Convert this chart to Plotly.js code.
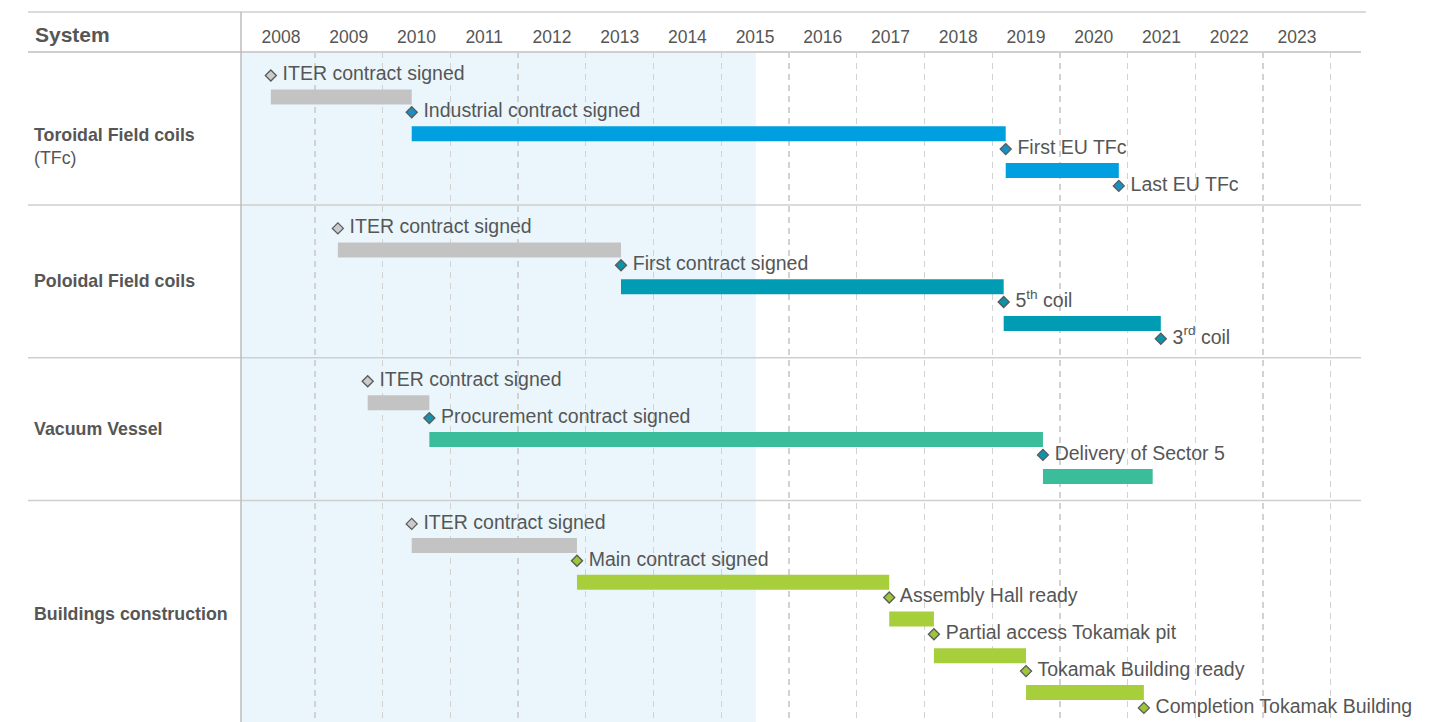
<!DOCTYPE html>
<html>
<head>
<meta charset="utf-8">
<script src="https://cdn.plot.ly/plotly-3.0.1.min.js"></script>
<style>
html,body{margin:0;padding:0;background:#fff;}
#chart{width:1433px;height:722px;}
</style>
</head>
<body>
<div id="chart"></div>
<script>
// ---------- DATA ----------
const years = [2008,2009,2010,2011,2012,2013,2014,2015,2016,2017,2018,2019,2020,2021,2022,2023];
const pastEnd = 2015.51;   // end of shaded "past" period

const systemNames = ['<b>Toroidal Field coils</b><br>(TFc)', '<b>Poloidal Field coils</b>', '<b>Vacuum Vessel</b>', '<b>Buildings construction</b>'];

const tfcLabels = ['ITER contract signed', 'Industrial contract signed', 'First EU TFc', 'Last EU TFc'];
const tfcDates  = [2008.35, 2010.43, 2019.20, 2020.87];
const tfcOpenEnd = null;

const pfLabels = ['ITER contract signed', 'First contract signed', '5<sup>th</sup> coil', '3<sup>rd</sup> coil'];
const pfDates  = [2009.34, 2013.52, 2019.17, 2021.49];
const pfOpenEnd = null;

const vvLabels = ['ITER contract signed', 'Procurement contract signed', 'Delivery of Sector 5'];
const vvDates  = [2009.78, 2010.69, 2019.75];
const vvOpenEnd = 2021.37;

const bLabels = ['ITER contract signed', 'Main contract signed', 'Assembly Hall ready', 'Partial access Tokamak pit', 'Tokamak Building ready', 'Completion Tokamak Building'];
const bDates  = [2010.43, 2012.87, 2017.48, 2018.14, 2019.50, 2021.24];
const bOpenEnd = null;

// ---------- STYLE ----------
const barColors     = ['#009fdf', '#009cb4', '#3bbd9c', '#a7cf3b'];
const diamondColors = ['#1790c8', '#0b93a9', '#1492ab', '#9cc53b'];
const iterBarColor = '#c3c3c3';
const iterDiamondColor = '#cbcbcb';
const textColor = '#565656';
const FONT = '"Liberation Sans", Arial, Helvetica, sans-serif';

const systems = [
  {labels: tfcLabels, dates: tfcDates, open: tfcOpenEnd},
  {labels: pfLabels, dates: pfDates, open: pfOpenEnd},
  {labels: vvLabels, dates: vvDates, open: vvOpenEnd},
  {labels: bLabels, dates: bDates, open: bOpenEnd}
];

// layout geometry (in pixel units of the y axis)
const PAD = 23.5, STEP = 36.8, TAIL = 19, OPEN_TAIL = 45.5, BAR_OFF = 21.5, BAR_H = 15;
const PLOT_L = 241, PLOT_R = 1361, PLOT_T = 52, PLOT_B = 722;
const PLOT_W = PLOT_R - PLOT_L, PLOT_H = PLOT_B - PLOT_T;
const PX_PER_YEAR = 67.73;
const xRange = [years[0] + 0.5 - 40 / PX_PER_YEAR, years[0] + 0.5 + (PLOT_R - 281) / PX_PER_YEAR];

const traces = [];
const shapes = [];
const annotations = [];
let cursorY = 0;
const boundaries = [];

systems.forEach((s, si) => {
  const n = s.dates.length;
  const dY = s.dates.map((_, k) => cursorY + PAD + k * STEP);
  const bx = [], bbase = [], by = [], bcol = [];
  for (let k = 0; k < n; k++) {
    const end = k < n - 1 ? s.dates[k + 1] : s.open;
    if (end === null || end === undefined) continue;
    bbase.push(s.dates[k]);
    bx.push(end - s.dates[k]);
    by.push(dY[k] + BAR_OFF);
    bcol.push(k === 0 ? iterBarColor : barColors[si]);
  }
  traces.push({
    type: 'bar', orientation: 'h', x: bx, base: bbase, y: by, width: BAR_H,
    marker: {color: bcol, line: {width: 0}}, hoverinfo: 'skip', showlegend: false
  });
  traces.push({
    type: 'scatter', mode: 'markers+text', x: s.dates, y: dY,
    text: s.labels.map(t => ' ' + t), textposition: 'middle right',
    textfont: {family: FONT, size: 19.5, color: textColor},
    marker: {symbol: 'diamond', size: 8.5,
             color: s.dates.map((_, k) => k === 0 ? iterDiamondColor : diamondColors[si]),
             line: {color: '#5a5a5a', width: 1.3}},
    cliponaxis: false, hoverinfo: 'skip', showlegend: false
  });
  const h = PAD + (n - 1) * STEP + (s.open ? OPEN_TAIL : TAIL);
  const lines = systemNames[si].split('<br>').length;
  annotations.push({
    xref: 'paper', yref: 'y', x: 0, y: cursorY + h / 2, xanchor: 'left', yanchor: 'middle',
    xshift: -(PLOT_L - 32), yshift: -(lines - 1) * 18,
    text: systemNames[si], showarrow: false, align: 'left',
    font: {family: FONT, size: 17.8, color: textColor}
  });
  cursorY += h;
  boundaries.push(cursorY);
});

// header label
annotations.push({
  xref: 'paper', yref: 'paper', x: 0, y: 1, xanchor: 'left', yanchor: 'middle',
  xshift: -(PLOT_L - 33), yshift: 18, text: '<b>System</b>', showarrow: false,
  font: {family: FONT, size: 21, color: textColor}
});

const lineColor = '#cfcfcf';
const xLeftPaper = (28 - PLOT_L) / PLOT_W;
const headerTopPaper = 1 + (PLOT_T - 12) / PLOT_H;

// past shading
shapes.push({type: 'rect', xref: 'x', yref: 'paper', x0: xRange[0], x1: pastEnd, y0: 0, y1: 1,
  fillcolor: '#eaf6fc', line: {width: 0}, layer: 'below'});
// header top line
shapes.push({type: 'line', xref: 'paper', yref: 'paper', x0: xLeftPaper, x1: (1366 - PLOT_L) / PLOT_W,
  y0: headerTopPaper, y1: headerTopPaper, line: {color: lineColor, width: 1.5}});
// header bottom line
shapes.push({type: 'line', xref: 'paper', yref: 'paper', x0: xLeftPaper, x1: 1, y0: 1, y1: 1,
  line: {color: lineColor, width: 2}});
// section separators
boundaries.slice(0, -1).forEach(b => {
  shapes.push({type: 'line', xref: 'paper', yref: 'y', x0: xLeftPaper, x1: 1, y0: b, y1: b,
    line: {color: lineColor, width: 1.5}});
});
// left vertical line
shapes.push({type: 'line', xref: 'paper', yref: 'paper', x0: 0, x1: 0, y0: 0, y1: headerTopPaper,
  line: {color: '#bdbdbd', width: 1.5}});

const layout = {
  width: 1433, height: 722,
  margin: {l: PLOT_L, r: 1433 - PLOT_R, t: PLOT_T, b: 0, pad: 0},
  paper_bgcolor: '#ffffff', plot_bgcolor: 'rgba(0,0,0,0)',
  showlegend: false, barmode: 'overlay',
  xaxis: {
    side: 'top', range: xRange, showgrid: false, zeroline: false, showline: false,
    tickmode: 'array', tickvals: years.map(y => y + 0.5), ticktext: years.map(String),
    ticks: '', ticklabelstandoff: 5,
    tickfont: {family: FONT, size: 17.5, color: textColor},
    minor: {tickmode: 'array', tickvals: years.map(y => y + 1), ticks: '',
            showgrid: true, gridcolor: '#d2d2d2', gridwidth: 1.3, griddash: '6px,5px'},
    fixedrange: true
  },
  yaxis: {range: [PLOT_H, 0], showgrid: false, zeroline: false, showline: false,
          showticklabels: false, ticks: '', fixedrange: true},
  shapes: shapes, annotations: annotations,
  font: {family: FONT}
};

Plotly.newPlot('chart', traces, layout, {staticPlot: true, displayModeBar: false});
</script>
</body>
</html>
